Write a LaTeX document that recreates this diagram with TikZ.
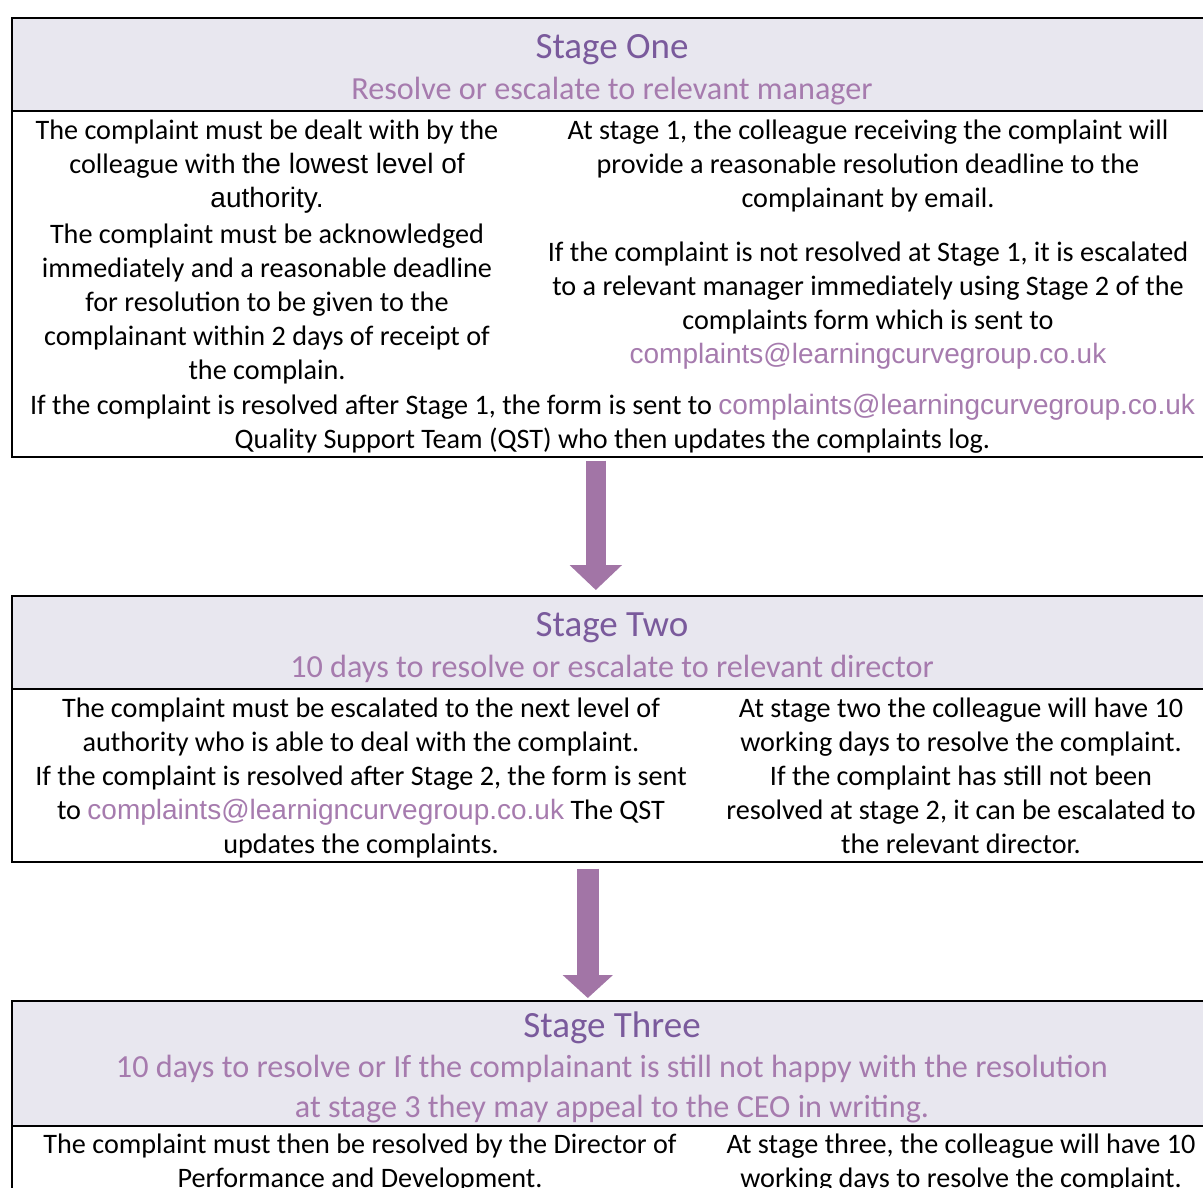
\documentclass[tikz,border=0pt]{standalone}
\usepackage{fontspec}
\setmainfont{Carlito}
\newfontfamily\arialfont{Liberation Sans}
\usetikzlibrary{arrows.meta}
\definecolor{headgray}{HTML}{E8E7EF}
\definecolor{titlepurple}{HTML}{7A5A9C}
\definecolor{subpurple}{HTML}{A67BAE}
\definecolor{arrowpurple}{HTML}{A275A6}
\newcommand{\mailaddr}[1]{{\arialfont\fontsize{28}{34}\selectfont\color{subpurple}#1}}
\newcommand{\arialtext}[1]{{\arialfont\fontsize{28}{34}\selectfont#1}}

\begin{document}
\begin{tikzpicture}[x=1pt,y=-1pt,
	stagebox/.style={draw,line width=1.6pt,inner sep=0,anchor=north west,minimum width=1195pt},
	headbox/.style={draw,line width=1.6pt,fill=headgray,inner sep=0,anchor=north west,minimum width=1195pt},
	title/.style={inner sep=0,anchor=north,text=titlepurple,font=\fontsize{37}{44}\selectfont},
	subtitle/.style={inner sep=0,anchor=north,align=center,text=subpurple,font=\fontsize{32.2}{40}\selectfont},
	body/.style={inner sep=0,anchor=north,align=center,font=\fontsize{28.2}{34}\selectfont},
	bigarrow/.style={line width=20pt,arrowpurple,-{Triangle[width=51pt,length=25pt]}}]
	\useasboundingbox (0,0) rectangle (1203,1187);
	\node[stagebox,minimum height=439pt] (one) at (11,17) {};
	\node[headbox,minimum height=93pt] (onehead) at (11,17) {};
	\node[stagebox,minimum height=266pt] (two) at (11,595) {};
	\node[headbox,minimum height=93pt] (twohead) at (11,595) {};
	\node[stagebox,minimum height=260pt] (three) at (11,1000) {};
	\node[headbox,minimum height=125pt] (threehead) at (11,1000) {};
	\node[title] (onetitle) at (612,34.5) {Stage One};
	\node[subtitle] (onesub) at (612,76.5) {Resolve or escalate to relevant manager};
	\node[body] (oneleft) at (267,120) {The complaint must be dealt with by the\\colleague with \arialtext{the lowest level of}\\\arialtext{authority.}};
	\node[body] (oneleftb) at (267,224) {The complaint must be acknowledged\\immediately and a reasonable deadline\\for resolution to be given to the\\complainant within 2 days of receipt of\\the complain.};
	\node[body] (oneright) at (868,120) {At stage 1, the colleague receiving the complaint will\\provide a reasonable resolution deadline to the\\complainant by email.};
	\node[body] (onerightb) at (868,242) {If the complaint is not resolved at Stage 1, it is escalated\\to a relevant manager immediately using Stage 2 of the\\complaints form which is sent to\\\mailaddr{complaints@learningcurvegroup.co.uk}};
	\node[body] (onefoot) at (612.5,394) {If the complaint is resolved after Stage 1, the form is sent to \mailaddr{complaints@learningcurvegroup.co.uk}\\Quality Support Team (QST) who then updates the complaints log.};
	\node[title] (twotitle) at (612,612.5) {Stage Two};
	\node[subtitle] (twosub) at (612,654.5) {10 days to resolve or escalate to relevant director};
	\node[body] (twoleft) at (361,698) {The complaint must be escalated to the next level of\\authority who is able to deal with the complaint.\\If the complaint is resolved after Stage 2, the form is sent\\to \mailaddr{complaints@learnigncurvegroup.co.uk} The QST\\updates the complaints.};
	\node[body] (tworight) at (961,698) {At stage two the colleague will have 10\\working days to resolve the complaint.\\If the complaint has still not been\\resolved at stage 2, it can be escalated to\\the relevant director.};
	\node[title] (threetitle) at (612,1011.5) {Stage Three};
	\node[subtitle] (threesub) at (612,1055) {10 days to resolve or If the complainant is still not happy with the resolution\\at stage 3 they may appeal to the CEO in writing.};
	\node[body] (threeleft) at (360,1134) {The complaint must then be resolved by the Director of\\Performance and Development.};
	\node[body] (threeright) at (961,1134) {At stage three, the colleague will have 10\\working days to resolve the complaint.};
	\draw[bigarrow] ([xshift=-13.5pt,yshift=-3pt]one.south) -- ([xshift=-13.5pt,yshift=5pt]two.north);
	\draw[bigarrow,line width=22pt,-{Triangle[width=49pt,length=23pt]}] ([xshift=-21.5pt,yshift=-6pt]two.south) -- ([xshift=-21.5pt,yshift=2pt]three.north);
\end{tikzpicture}
\end{document}
